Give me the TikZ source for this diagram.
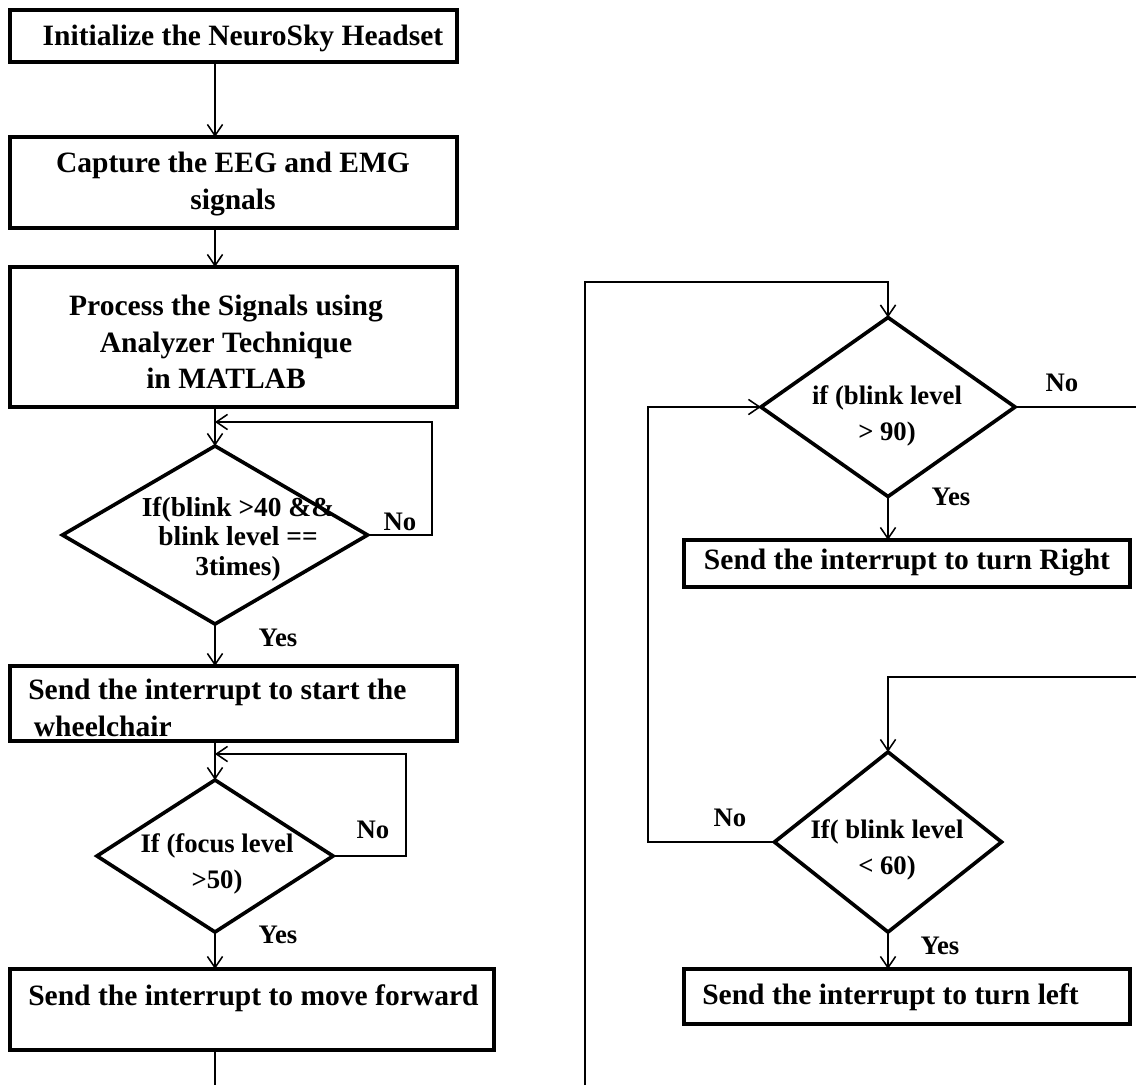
\documentclass[tikz,border=0pt]{standalone}
\usepackage{fontspec}
\setmainfont{Liberation Serif}
\usetikzlibrary{shapes.geometric,arrows.meta}
\begin{document}
\begin{tikzpicture}[x=0.025cm,y=-0.025cm,
  box/.style={draw, rectangle, line width=2.6pt, inner sep=0pt, outer sep=0pt},
  dia/.style={draw, diamond, line width=2.6pt, inner sep=0pt, outer sep=0pt},
  btxt/.style={font=\fontsize{21}{26}\selectfont\bfseries, align=center, inner sep=0pt},
  dtxt/.style={font=\fontsize{19}{25}\selectfont\bfseries, align=center, inner sep=0pt},
  lbl/.style={font=\fontsize{19}{23}\selectfont\bfseries, inner sep=0pt},
  line/.style={line width=1.3pt},
  arr/.style={line width=1.3pt, -{Straight Barb[length=0.28cm, width=0.38cm, line width=1.1pt]}}
]
\useasboundingbox (0,0) rectangle (1136,1085);
\fill[white] (0,0) rectangle (1136,1085);

% columns
\coordinate (colA) at (215,0);

% boxes
\node[box, minimum width=11.175cm, minimum height=1.3cm] (b1) at (233.5,36) {};
\node[btxt] (t1) at (243,38) {Initialize the NeuroSky Headset};

\node[box, minimum width=11.175cm, minimum height=2.275cm] (b2) at (233.5,182.5) {};
\node[btxt] (t2) at (233,184) {Capture the EEG and EMG\\signals};

\node[box, minimum width=11.175cm, minimum height=3.5cm] (b3) at (233.5,337) {};
\node[btxt] (t3) at (226,342) {Process the Signals using\\Analyzer Technique\\in MATLAB};

\node[dia, minimum width=7.625cm, minimum height=4.45cm] (d1) at (215,535) {};
\node[dtxt, font=\fontsize{19.5}{21}\selectfont\bfseries] (dt1) at (238,539) {If(blink >40 \&\&\\blink level ==\\3times)};

\node[box, minimum width=11.175cm, minimum height=1.875cm] (b4) at (233.5,703.5) {};
\node[btxt, align=left, anchor=west] (t4) at (28,708) {Send the interrupt to start the\\\hspace*{4pt}wheelchair};

\node[dia, minimum width=5.9cm, minimum height=3.8cm] (d2) at (215,856) {};
\node[dtxt] (dt2) at (217,864) {If (focus level\\>50)};

\node[box, minimum width=12.1cm, minimum height=2.025cm] (b5) at (252,1009.5) {};
\node[btxt, anchor=west] (t5) at (28,998) {Send the interrupt to move forward};

\node[dia, minimum width=6.35cm, minimum height=4.475cm] (d3) at (888,407) {};
\node[dtxt] (dt3) at (887,416) {if (blink level\\> 90)};

\node[box, minimum width=11.15cm, minimum height=1.175cm] (b6) at (907,563.5) {};
\node[btxt] (t6) at (907,563) {Send the interrupt to turn Right};

\node[dia, minimum width=5.675cm, minimum height=4.5cm] (d4) at (888,842) {};
\node[dtxt] (dt4) at (887,850) {If( blink level\\< 60)};

\node[box, minimum width=11.15cm, minimum height=1.375cm] (b7) at (907,996.5) {};
\node[btxt, anchor=west] (t7) at (702,997) {Send the interrupt to turn left};

% labels
\node[lbl] (no1) at (400,522) {No};
\node[lbl] (yes1) at (278,638) {Yes};
\node[lbl] (no2) at (373,830) {No};
\node[lbl] (yes2) at (278,935) {Yes};
\node[lbl] (no3) at (1062,383) {No};
\node[lbl] (yes3) at (951,497) {Yes};
\node[lbl] (no4) at (730,818) {No};
\node[lbl] (yes4) at (940,946) {Yes};

% helper coordinates
\coordinate (lp1) at (432,422);
\coordinate (lp2) at (406,754);
\coordinate (lx) at (648,0);
\coordinate (e1) at (215,1085);
\coordinate (e2) at (585,1085);
\coordinate (tp) at (585,282);
\coordinate (r1) at (1136,407);
\coordinate (r2) at (1136,677);

% connectors
\draw[arr] (b1.south -| colA) -- (b2.north -| colA);
\draw[arr] (b2.south -| colA) -- (b3.north -| colA);
\draw[arr] (b3.south -| colA) -- (d1.north);
\draw[arr] (d1.east) -| (lp1) -- (lp1 -| d1.north);
\draw[arr] (d1.south) -- (b4.north -| colA);
\draw[arr] (b4.south -| colA) -- (d2.north);
\draw[arr] (d2.east) -| (lp2) -- (lp2 -| d2.north);
\draw[arr] (d2.south) -- (b5.north -| colA);
\draw[line] (b5.south -| colA) -- (e1);
\draw[arr] (e2) -- (tp) -| (d3.north);
\draw[line] (d3.east) -- (r1);
\draw[arr] (d3.south) -- (b6.north -| d3.south);
\draw[arr] (r2) -| (d4.north);
\draw[arr] (d4.west) -- (d4.west -| lx) |- (d3.west);
\draw[arr] (d4.south) -- (b7.north -| d4.south);
\end{tikzpicture}
\end{document}
